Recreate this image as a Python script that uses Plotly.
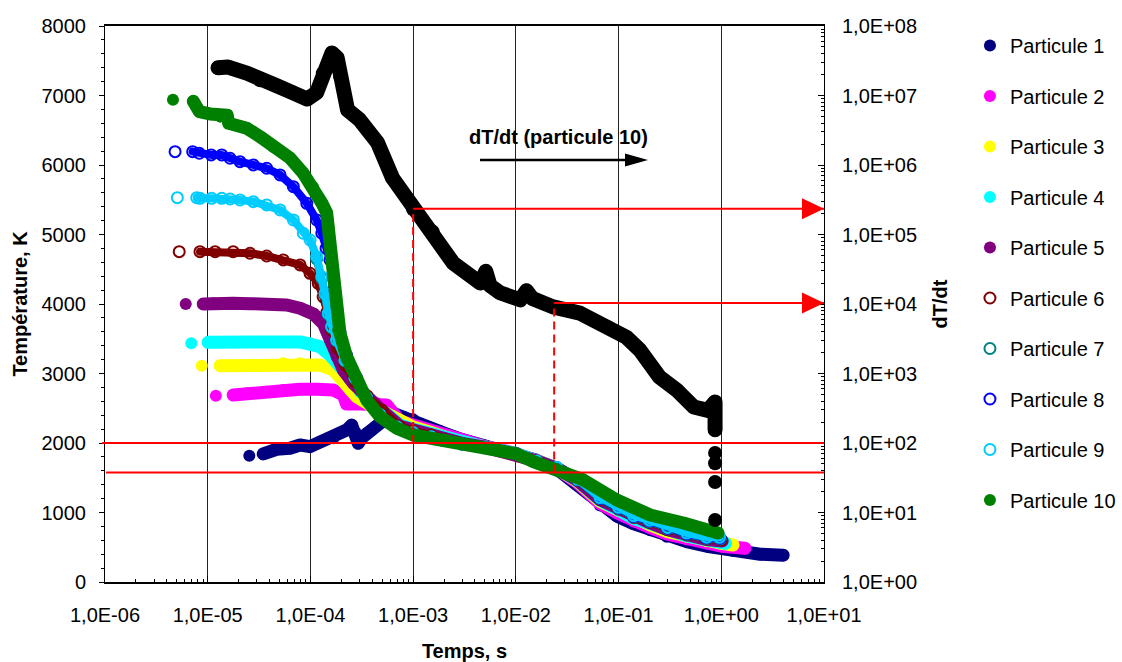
import math
import plotly.graph_objects as go

# ---------------- data ----------------
x_tick_vals = [1e-6, 1e-5, 1e-4, 1e-3, 1e-2, 1e-1, 1e0, 1e1]
x_tick_text = ["1,0E-06", "1,0E-05", "1,0E-04", "1,0E-03", "1,0E-02", "1,0E-01", "1,0E+00", "1,0E+01"]
y2_tick_vals = [1e0, 1e1, 1e2, 1e3, 1e4, 1e5, 1e6, 1e7, 1e8]
y2_tick_text = ["1,0E+00", "1,0E+01", "1,0E+02", "1,0E+03", "1,0E+04", "1,0E+05", "1,0E+06", "1,0E+07", "1,0E+08"]

names = ["Particule 1", "Particule 2", "Particule 3", "Particule 4", "Particule 5",
         "Particule 6", "Particule 7", "Particule 8", "Particule 9", "Particule 10"]

p1_t = [2.54e-5, 3.47e-5, 4.70e-5, 6.32e-5, 7.93e-5, 9.91e-5, 1.24e-4, 1.67e-4, 2.25e-4, 2.52e-4,
        2.75e-4, 2.92e-4, 3.2e-4, 3.53e-4, 4.76e-4, 6.41e-4, 8.04e-4, 1.0e-3, 1.5e-3, 2.0e-3,
        3.0e-3, 5.0e-3, 1.0e-2, 1.6e-2, 2.5e-2, 3.9e-2, 6.6e-2, 9.6e-2, 0.139, 0.203,
        0.294, 0.46, 0.72, 1.31, 2.39, 4.0]
p1_T = [1818, 1842, 1910, 1924, 1971, 1947, 2019, 2068, 2187, 2259,
        2150, 1996, 2080, 2140, 2284, 2428, 2379, 2340, 2216, 2144,
        2050, 1965, 1860, 1750, 1626, 1400, 1100, 950, 840, 745,
        650, 580, 515, 445, 400, 385]

p2_t = [1.2e-5, 1.77e-5, 2.4e-5, 3.75e-5, 5.44e-5, 7.93e-5, 1.15e-4, 1.67e-4, 2.09e-4, 2.25e-4,
        3.04e-4, 4.43e-4, 5.53e-4, 7.4e-4, 1.0e-3, 1.5e-3, 2.0e-3, 3.0e-3, 5.0e-3, 1.0e-2,
        1.6e-2, 2.5e-2, 4.0e-2, 6.6e-2, 0.1, 0.14, 0.2, 0.3, 0.46, 0.72, 1.0, 1.7]
p2_T = [2681, 2691, 2715, 2738, 2763, 2773, 2773, 2763, 2691, 2560,
        2560, 2571, 2547, 2317, 2260, 2170, 2090, 2015, 1950, 1852,
        1745, 1630, 1425, 1130, 985, 870, 785, 690, 615, 555, 515, 485]

p3_t = [8.75e-6, 1.32e-5, 1.77e-5, 2.78e-5, 3.75e-5, 5.44e-5, 7.93e-5, 1.24e-4, 1.67e-4, 2.09e-4,
        2.43e-4, 2.82e-4, 3.8e-4, 5.3e-4, 7.4e-4, 1.0e-3, 1.5e-3, 2.0e-3, 3.0e-3, 5.0e-3,
        1.0e-2, 1.6e-2, 2.5e-2, 4.0e-2, 6.6e-2, 0.1, 0.14, 0.2, 0.3, 0.46, 0.72, 1.0, 1.3]
p3_T = [3113, 3113, 3113, 3123, 3123, 3147, 3147, 3123, 3051, 2907,
        2763, 2667, 2547, 2432, 2288, 2230, 2150, 2070, 2005, 1945,
        1848, 1742, 1635, 1445, 1160, 1020, 905, 825, 725, 650, 585, 555, 532]

p4_t = [6.92e-6, 1.01e-5, 1.22e-5, 1.77e-5, 2.6e-5, 3.75e-5, 5.5e-5, 7.93e-5, 9.91e-5, 1.24e-4,
        1.55e-4, 1.94e-4, 2.43e-4, 3.04e-4, 3.98e-4, 5.96e-4, 7.4e-4, 1.0e-3, 1.5e-3, 2.0e-3,
        3.0e-3, 5.0e-3, 1.0e-2, 1.6e-2, 2.5e-2, 4.0e-2, 6.6e-2, 0.1, 0.14, 0.2,
        0.3, 0.46, 0.72, 1.1]
p4_T = [3435, 3449, 3454, 3454, 3454, 3454, 3454, 3454, 3435, 3386,
        3267, 3098, 2907, 2734, 2576, 2380, 2259, 2200, 2130, 2060,
        2000, 1942, 1847, 1740, 1640, 1455, 1175, 1035, 915, 845,
        745, 665, 605, 557]

p5_t = [6.11e-6, 9.06e-6, 1.13e-5, 1.77e-5, 2.6e-5, 3.75e-5, 5.88e-5, 7.93e-5, 1.07e-4, 1.34e-4,
        1.55e-4, 1.8e-4, 2.09e-4, 2.62e-4, 3.4e-4, 4.76e-4, 7.45e-4, 1.0e-3, 1.5e-3, 2.0e-3,
        3.0e-3, 5.0e-3, 1.0e-2, 1.6e-2, 2.5e-2, 4.0e-2, 6.6e-2, 0.1, 0.14, 0.2,
        0.3, 0.46, 0.72, 1.02]
p5_T = [4000, 4000, 4011, 4011, 4005, 4000, 3986, 3939, 3857, 3713,
        3482, 3242, 3051, 2859, 2677, 2489, 2240, 2180, 2120, 2055,
        1995, 1941, 1847, 1740, 1640, 1460, 1185, 1045, 925, 855,
        752, 672, 612, 590]

p6_t = [5.28e-6, 8.41e-6, 1.18e-5, 1.77e-5, 2.58e-5, 3.75e-5, 5.44e-5, 7.93e-5, 9.91e-5, 1.19e-4,
        1.33e-4, 1.45e-4, 1.59e-4, 1.82e-4, 2.17e-4, 2.72e-4, 3.56e-4, 4.98e-4, 7.45e-4, 1.0e-3,
        1.5e-3, 2.0e-3, 3.0e-3, 5.0e-3, 1.0e-2, 1.6e-2, 2.5e-2, 4.0e-2, 6.6e-2, 0.1,
        0.14, 0.2, 0.3, 0.46, 0.72, 1.0]
p6_T = [4753, 4753, 4753, 4753, 4730, 4691, 4634, 4562, 4442, 4298,
        4101, 3885, 3626, 3367, 3123, 2878, 2677, 2475, 2235, 2175,
        2115, 2050, 1992, 1940, 1846, 1738, 1642, 1465, 1190, 1050,
        930, 860, 758, 678, 620, 604]

p7_t = [1.15e-4, 1.29e-4, 1.39e-4, 1.49e-4, 1.61e-4, 1.8e-4, 2.17e-4, 2.72e-4, 3.5e-4, 4.76e-4,
        7e-4, 1.0e-3, 1.5e-3, 2.0e-3, 3.0e-3, 5.0e-3, 1.0e-2, 1.6e-2, 2.5e-2, 4.0e-2,
        6.6e-2, 0.1, 0.14, 0.2, 0.3, 0.46, 0.72, 0.98]
p7_T = [4650, 4370, 4130, 3850, 3660, 3470, 3180, 2925, 2650, 2400,
        2225, 2145, 2088, 2036, 1986, 1938, 1846, 1737, 1646, 1468,
        1200, 1058, 938, 870, 766, 686, 628, 620]

p8_t = [4.81e-6, 7.14e-6, 8.28e-6, 1.08e-5, 1.37e-5, 1.65e-5, 2.06e-5, 2.78e-5, 3.75e-5, 5.06e-5,
        6.82e-5, 9.21e-5, 1.15e-4, 1.29e-4, 1.42e-4, 1.55e-4, 1.67e-4, 1.8e-4, 1.94e-4, 2.25e-4,
        2.82e-4, 3.53e-4, 4.76e-4, 7e-4, 1.0e-3, 1.5e-3, 2.0e-3, 3.0e-3, 5.0e-3, 1.0e-2,
        1.6e-2, 2.5e-2, 4.0e-2, 6.6e-2, 0.1, 0.14, 0.2, 0.3, 0.46, 0.72, 0.97]
p8_T = [6192, 6192, 6169, 6145, 6145, 6097, 6048, 6001, 5953, 5857,
        5688, 5449, 5209, 5018, 4800, 4634, 4200, 3850, 3600, 3260,
        2935, 2655, 2405, 2228, 2142, 2086, 2035, 1985, 1938, 1846,
        1736, 1645, 1472, 1205, 1065, 945, 880, 775, 695, 635, 630]

p9_t = [5.06e-6, 7.81e-6, 8.41e-6, 1.09e-5, 1.37e-5, 1.65e-5, 2.06e-5, 2.78e-5, 3.75e-5, 5.06e-5,
        6.82e-5, 8.53e-5, 9.91e-5, 1.15e-4, 1.29e-4, 1.39e-4, 1.49e-4, 1.61e-4, 1.8e-4, 2.17e-4,
        2.72e-4, 3.5e-4, 4.76e-4, 7e-4, 1.0e-3, 1.5e-3, 2.0e-3, 3.0e-3, 5.0e-3, 1.0e-2,
        1.6e-2, 2.5e-2, 4.0e-2, 6.6e-2, 0.1, 0.14, 0.2, 0.3, 0.46, 0.72, 0.96]
p9_T = [5530, 5530, 5521, 5521, 5521, 5511, 5497, 5473, 5425, 5353,
        5209, 5018, 4921, 4681, 4393, 4154, 3867, 3674, 3482, 3195,
        2936, 2660, 2410, 2230, 2150, 2090, 2038, 1987, 1939, 1846,
        1736, 1648, 1478, 1215, 1075, 955, 890, 785, 705, 645, 643]

p10_t = [4.59e-6, 7.24e-6, 8.28e-6, 1.05e-5, 1.32e-5, 1.55e-5, 1.6e-5, 2.4e-5, 3.23e-5, 4.33e-5,
         6.32e-5, 8.47e-5, 1.06e-4, 1.29e-4, 1.44e-4, 1.49e-4, 1.55e-4, 1.67e-4, 1.8e-4, 1.86e-4,
         1.94e-4, 2.25e-4, 2.82e-4, 3.53e-4, 4.76e-4, 6.92e-4, 1.0e-3, 1.57e-3, 2.28e-3, 3.3e-3,
         5.0e-3, 1.0e-2, 1.48e-2, 2.32e-2, 4.54e-2, 9.6e-2, 0.203, 0.428, 0.837, 0.93]
p10_T = [6940, 6917, 6768, 6735, 6696, 6715, 6600, 6529, 6408, 6264,
         6101, 5886, 5684, 5454, 5310, 5113, 4825, 4393, 3962, 3626,
         3579, 3242, 2907, 2619, 2379, 2212, 2115, 2068, 2019, 1979,
         1935, 1846, 1731, 1640, 1468, 1180, 964, 849, 724, 705]

# dT/dt of particle 10 (right axis)
dtdt_t = [1.26e-5, 1.58e-5, 2.4e-5, 3.24e-5, 4.7e-5, 6.7e-5, 9.3e-5, 1.15e-4, 1.32e-4, 1.62e-4,
          1.82e-4, 1.95e-4, 2.3e-4, 3.0e-4, 4.5e-4, 6.3e-4, 9.3e-4, 1.0e-3, 1.55e-3, 2.45e-3,
          4.5e-3, 5.1e-3, 5.6e-3, 7.0e-3, 1.1e-2, 1.27e-2, 1.45e-2, 2.3e-2, 4.2e-2, 7.7e-2,
          0.12, 0.16, 0.25, 0.37, 0.54, 0.74, 0.87, 0.87, 0.87, 0.87, 0.87, 0.87]
dtdt_v = [2.5e7, 2.57e7, 2.1e7, 1.66e7, 1.38e7, 1.1e7, 8.9e6, 1.1e7, 2.1e7, 4.1e7,
          3.5e7, 1.86e7, 6.2e6, 4.5e6, 2.1e6, 6.5e5, 2.9e5, 2.3e5, 1.1e5, 3.9e4,
          2.0e4, 2.95e4, 1.85e4, 1.45e4, 1.15e4, 1.55e4, 1.2e4, 9.1e3, 7.4e3, 4.7e3,
          3.3e3, 2.2e3, 890, 575, 330, 295, 390, 155, 72, 51, 27.5, 7.8]

# reference readings (red construction lines)
ref_t = [1.0e-3, 2.36e-2]
ref_T = [2000, 1575]
ref_dTdt = [2.35e5, 1.03e4]

# ---------------- styles ----------------
series_t = [p1_t, p2_t, p3_t, p4_t, p5_t, p6_t, p7_t, p8_t, p9_t, p10_t]
series_T = [p1_T, p2_T, p3_T, p4_T, p5_T, p6_T, p7_T, p8_T, p9_T, p10_T]
colors = ["#000080", "#FF00FF", "#FFFF00", "#00FFFF", "#800080",
          "#800000", "#008080", "#0000FF", "#00CCFF", "#008000"]
is_open = [False, False, False, False, False, True, True, True, True, False]
lead_isolated = [1, 1, 1, 1, 1, 1, 0, 1, 1, 1]
black_trail_isolated = 4

X_RANGE = [-6, 1]
Y_RANGE = [0, 8000]
Y2_RANGE = [0, 8]
K_PER_DECADE = (Y_RANGE[1] - Y_RANGE[0]) / (Y2_RANGE[1] - Y2_RANGE[0])
X_MAX = 10 ** X_RANGE[1]

FONT = "Liberation Sans, Arial, sans-serif"
RED = "#FF0000"

fig = go.Figure()

# black dT/dt curve
n_b = len(dtdt_t) - black_trail_isolated
fig.add_trace(go.Scatter(x=dtdt_t[:n_b], y=dtdt_v[:n_b], mode="lines", yaxis="y2",
                         line=dict(color="black", width=15), showlegend=False, hoverinfo="skip"))
fig.add_trace(go.Scatter(x=dtdt_t, y=dtdt_v, mode="markers", yaxis="y2", name="dT/dt (particule 10)",
                         marker=dict(color="black", size=14, line=dict(width=0)), showlegend=False))

for i, name in enumerate(names):
    t, T = series_t[i], series_T[i]
    k = lead_isolated[i]
    fig.add_trace(go.Scatter(x=t[k:], y=T[k:], mode="lines", legendgroup=name, showlegend=False,
                             line=dict(color=colors[i], width=8 if is_open[i] else 13),
                             hoverinfo="skip"))
    if is_open[i]:
        mk = dict(symbol="circle-open", size=11, color=colors[i], line=dict(width=2, color=colors[i]))
    else:
        mk = dict(symbol="circle", size=12, color=colors[i], line=dict(width=0))
    fig.add_trace(go.Scatter(x=t, y=T, mode="markers", name=name, legendgroup=name, marker=mk))

# ---------------- shapes ----------------
shapes = []
shapes.append(dict(type="line", xref="paper", yref="y", x0=-0.004, x1=1, y0=ref_T[0], y1=ref_T[0],
                   line=dict(color=RED, width=2)))
shapes.append(dict(type="line", xref="paper", yref="y", x0=0.0015, x1=1, y0=ref_T[1], y1=ref_T[1],
                   line=dict(color=RED, width=2)))
for i in range(2):
    y_top = K_PER_DECADE * math.log10(ref_dTdt[i])
    shapes.append(dict(type="line", xref="x", yref="y", x0=ref_t[i], x1=ref_t[i], y0=ref_T[i], y1=y_top,
                       line=dict(color=RED, width=2, dash="8px,5px")))
    shapes.append(dict(type="line", xref="x", yref="y2", x0=ref_t[i], x1=X_MAX, y0=ref_dTdt[i], y1=ref_dTdt[i],
                       line=dict(color=RED, width=2)))
    shapes.append(dict(type="path", xref="x", yref="y2", xsizemode="pixel", ysizemode="pixel",
                       xanchor=X_MAX, yanchor=ref_dTdt[i], path="M-22,-10.5 L0,0 L-22,10.5 Z",
                       fillcolor=RED, line=dict(width=0)))
ARROW_Y = 0.759
shapes.append(dict(type="line", xref="paper", yref="paper", x0=0.5216, x1=0.725, y0=ARROW_Y, y1=ARROW_Y,
                   line=dict(color="black", width=2.5)))
shapes.append(dict(type="path", xref="paper", yref="paper", xsizemode="pixel", ysizemode="pixel",
                   xanchor=0.7552, yanchor=ARROW_Y, path="M-23,-6.5 L0,0 L-23,6.5 Z",
                   fillcolor="black", line=dict(width=0)))

annotations = [dict(text="<b>dT/dt (particule 10)</b>", xref="paper", yref="paper", x=0.631, y=0.8004,
                    showarrow=False, font=dict(size=20, family=FONT, color="black"),
                    xanchor="center", yanchor="middle")]

x_minor = [k * 10 ** e for e in range(X_RANGE[0], X_RANGE[1]) for k in range(2, 10)]
y2_minor = [k * 10 ** e for e in range(Y2_RANGE[0], Y2_RANGE[1]) for k in range(2, 10)]

fig.update_layout(
    width=1122, height=662,
    margin=dict(l=105, r=298, t=26, b=80, autoexpand=False),
    plot_bgcolor="white", paper_bgcolor="white",
    font=dict(family=FONT, size=20, color="black"),
    shapes=shapes, annotations=annotations,
    legend=dict(x=1.203, xanchor="left", y=1.0, yanchor="top", traceorder="grouped",
                tracegroupgap=21.5, itemwidth=30, font=dict(size=20, family=FONT),
                bgcolor="rgba(0,0,0,0)"),
    xaxis=dict(type="log", range=X_RANGE, tickmode="array", tickvals=x_tick_vals, ticktext=x_tick_text,
               ticks="inside", ticklen=6, tickcolor="black", ticklabelstandoff=14,
               showline=True, linecolor="black", linewidth=2, mirror=True,
               showgrid=True, gridcolor="#222222", gridwidth=1, zeroline=False,
               minor=dict(tickvals=x_minor, ticks="inside", ticklen=3, tickcolor="black", showgrid=False),
               title=dict(text="<b>Temps, s</b>", font=dict(size=20), standoff=21)),
    yaxis=dict(range=Y_RANGE, tickmode="linear", tick0=0, dtick=1000,
               ticks="outside", ticklen=5, tickcolor="black", ticklabelstandoff=9,
               showline=True, linecolor="black", linewidth=1, showgrid=False, zeroline=False,
               minor=dict(dtick=200, ticks="outside", ticklen=3, tickcolor="black", showgrid=False),
               title=dict(text="<b>Température, K</b>", font=dict(size=20), standoff=8)),
    yaxis2=dict(type="log", range=Y2_RANGE, overlaying="y", side="right",
                tickmode="array", tickvals=y2_tick_vals, ticktext=y2_tick_text,
                ticks="inside", ticklen=6, tickcolor="black", ticklabelstandoff=13,
                showline=True, linecolor="black", linewidth=1, showgrid=False, zeroline=False,
                minor=dict(tickvals=y2_minor, ticks="inside", ticklen=3, tickcolor="black", showgrid=False),
                title=dict(text="<b>dT/dt</b>", font=dict(size=20), standoff=16)),
)

post = ("document.body.style.margin='0';"
        "var s=document.createElement('style');"
        "s.textContent='.js-line{stroke-linejoin:round !important;stroke-linecap:round !important;}';"
        "document.head.appendChild(s);")
fig.write_html("out.html", config={"displayModeBar": False}, post_script=post)
